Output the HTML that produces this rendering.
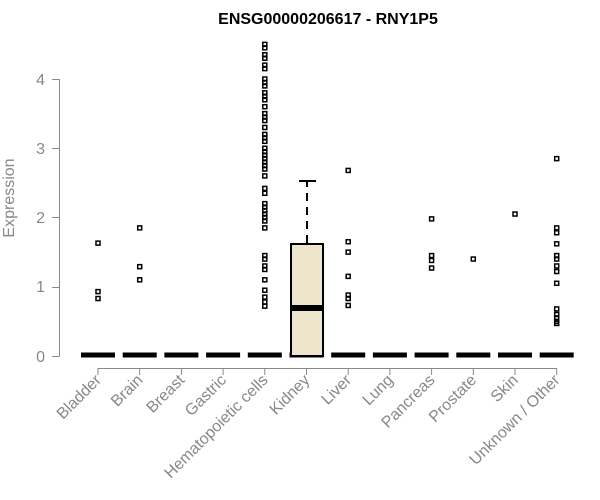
<!DOCTYPE html>
<html><head><style>body{margin:0;background:#fff}svg{display:block}</style></head><body>
<svg width="600" height="500" xmlns="http://www.w3.org/2000/svg" font-family="Liberation Sans, sans-serif">
<rect width="600" height="500" fill="#fff"/>
<text x="328" y="24" text-anchor="middle" font-weight="bold" font-size="16">ENSG00000206617 - RNY1P5</text>
<g stroke="#888" stroke-width="1" fill="none">
<line x1="59.5" y1="79" x2="59.5" y2="356"/>
<line x1="52" y1="79.5" x2="59.5" y2="79.5"/><line x1="52" y1="148.5" x2="59.5" y2="148.5"/><line x1="52" y1="217.5" x2="59.5" y2="217.5"/><line x1="52" y1="287.5" x2="59.5" y2="287.5"/><line x1="52" y1="356.5" x2="59.5" y2="356.5"/>
<line x1="98" y1="368.5" x2="557" y2="368.5"/>
</g>
<g fill="#888" font-size="16" text-anchor="end">
<text x="45" y="85">4</text><text x="45" y="154">3</text><text x="45" y="223">2</text><text x="45" y="292">1</text><text x="45" y="362">0</text>
</g>
<text transform="translate(14,198) rotate(-90)" text-anchor="middle" fill="#888" font-size="16">Expression</text>
<g id="ticks" stroke="#888"></g>
<g id="labels" fill="#888" font-size="16" text-anchor="end"></g>
<g id="zero" stroke="#000" stroke-width="5"></g>
<rect x="291" y="244" width="32" height="112" fill="#ede6cc" stroke="#000" stroke-width="2"/>
<line x1="291" y1="308" x2="323" y2="308" stroke="#000" stroke-width="6"/>
<line x1="307" y1="243" x2="307" y2="182" stroke="#000" stroke-width="2" stroke-dasharray="8,6"/>
<line x1="299" y1="181" x2="316" y2="181" stroke="#000" stroke-width="2"/>
<g id="pts" fill="none" stroke="#000" stroke-width="1.5"></g>
</svg>
<script>
var names=["Bladder","Brain","Breast","Gastric","Hematopoietic cells","Kidney","Liver","Lung","Pancreas","Prostate","Skin","Unknown / Other"];
var ns="http://www.w3.org/2000/svg";
function el(t,a,p){var e=document.createElementNS(ns,t);for(var k in a)e.setAttribute(k,a[k]);document.getElementById(p).appendChild(e);return e;}
function cx(i){return 98+i*41.7;}
function y(v){return 356-v*69.25;}
names.forEach(function(n,i){var x=cx(i);
el("line",{x1:x,y1:368,x2:x,y2:375},"ticks");
var t=el("text",{transform:"translate("+(x+4)+",381) rotate(-45)"},"labels");t.textContent=n;
el("line",{x1:x-17,y1:355,x2:x+17,y2:355},"zero");});
var P={0:[1.63,0.93,0.83],1:[1.85,1.29,1.1],4:[4.5,4.45,4.35,4.3,4.2,4.15,4.0,3.95,3.9,3.8,3.75,3.7,3.6,3.5,3.45,3.4,3.3,3.2,3.15,3.1,3.0,2.95,2.9,2.85,2.8,2.75,2.7,2.6,2.42,2.35,2.2,2.15,2.1,2.05,2.0,1.95,1.85,1.45,1.4,1.3,1.25,1.1,0.95,0.85,0.78,0.72],6:[2.68,1.65,1.5,1.15,0.88,0.83,0.73],8:[1.98,1.45,1.38,1.27],9:[1.4],10:[2.05],11:[2.85,1.85,1.78,1.62,1.45,1.4,1.3,1.22,1.05,0.68,0.6,0.55,0.5,0.47]};
for(var i in P)P[i].forEach(function(v){el("rect",{x:cx(+i)-2,y:y(v)-2,width:4,height:4},"pts");});
</script>
</body></html>
